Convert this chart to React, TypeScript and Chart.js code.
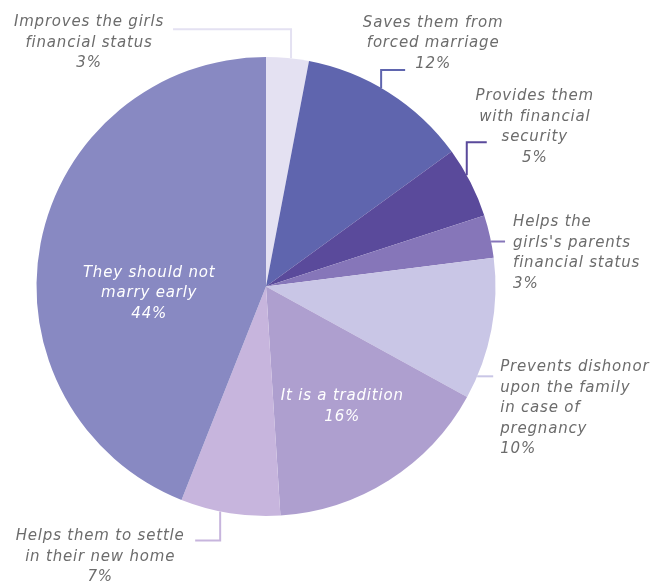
import React, { useEffect, useRef } from "react";
import { Chart, registerables } from "chart.js";

Chart.register(...registerables);

const categories = [
  ["Improves the girls", "financial status"],
  ["Saves them from", "forced marriage"],
  ["Provides them", "with financial", "security"],
  ["Helps the", "girls's parents", "financial status"],
  ["Prevents dishonor", "upon the family", "in case of", "pregnancy"],
  ["It is a tradition"],
  ["Helps them to settle", "in their new home"],
  ["They should not", "marry early"],
];
const percentages = [3, 12, 5, 3, 10, 16, 7, 44];
const colors = ["#e4e1f2", "#5f65ae", "#5a4a9b", "#8676b9", "#c9c6e6", "#ae9fcf", "#c7b5dd", "#8889c2"];

type Layout = {
  f: number;
  k: number;
  path: [number, number][];
  inside?: boolean;
  align: CanvasTextAlign;
  tdx: number;
  tdy: number;
};
const layout: Layout[] = [
  { f: 0.58, k: 1, path: [[0, -29], [-118, 0]], align: "center", tdx: -84, tdy: -7 },
  { f: 0.447, k: 1, path: [[0, -18], [24, 0]], align: "center", tdx: 28, tdy: -47 },
  { f: 0.39, k: 1, path: [[0, -33], [20, 0]], align: "center", tdx: 48, tdy: -46 },
  { f: 0.62, k: 1, path: [[14, 0]], align: "left", tdx: 8, tdy: -19 },
  { f: 0.84, k: 1, path: [[16, 0]], align: "left", tdx: 7, tdy: -9 },
  { f: 0.5, k: 0.62, path: [], inside: true, align: "center", tdx: 0, tdy: 0 },
  { f: 0.6, k: 1, path: [[0, 29], [-25, 0]], align: "center", tdx: -95, tdy: -4 },
  { f: 0.41, k: 0.51, path: [], inside: true, align: "center", tdx: 0, tdy: 0 },
];

const FONT = "oblique 15px 'DejaVu Sans', sans-serif";
const LETTER_SPACING = "0.8px";
const LINE_H = 20.5;

const labelPlugin = {
  id: "pieLabels",
  afterDatasetsDraw(chart: any) {
    const ctx = chart.ctx as CanvasRenderingContext2D;
    const meta = chart.getDatasetMeta(0);
    meta.data.forEach((arc: any, i: number) => {
      const p = arc.getProps(["x", "y", "startAngle", "endAngle", "outerRadius"], true);
      const L = layout[i];
      const a = p.startAngle + L.f * (p.endAngle - p.startAngle);
      let x = p.x + Math.cos(a) * p.outerRadius * L.k;
      let y = p.y + Math.sin(a) * p.outerRadius * L.k;
      const lines = [...categories[i], percentages[i] + "%"];
      ctx.save();
      ctx.font = FONT;
      (ctx as any).letterSpacing = LETTER_SPACING;
      ctx.textBaseline = "middle";
      if (L.inside) {
        ctx.fillStyle = "#ffffff";
        ctx.textAlign = "center";
        const top = y - ((lines.length - 1) * LINE_H) / 2;
        lines.forEach((t, j) => ctx.fillText(t, x, top + j * LINE_H));
      } else {
        ctx.strokeStyle = colors[i];
        ctx.lineWidth = 2;
        ctx.beginPath();
        ctx.moveTo(x, y);
        L.path.forEach(([dx, dy]) => {
          x += dx;
          y += dy;
          ctx.lineTo(x, y);
        });
        ctx.stroke();
        ctx.fillStyle = "#6c6c6c";
        ctx.textAlign = L.align;
        lines.forEach((t, j) => ctx.fillText(t, x + L.tdx, y + L.tdy + j * LINE_H));
      }
      ctx.restore();
    });
  },
};

export default function App() {
  const ref = useRef<HTMLCanvasElement>(null);
  useEffect(() => {
    const chart = new Chart(ref.current!, {
      type: "pie",
      data: {
        labels: categories.map((c) => c.join(" ")),
        datasets: [
          {
            data: percentages,
            backgroundColor: colors,
            borderWidth: 0,
          },
        ],
      },
      options: {
        animation: false,
        responsive: false,
        events: [],
        layout: { padding: { left: 36.5, right: 158.5, top: 57, bottom: 66 } },
        plugins: { legend: { display: false }, tooltip: { enabled: false } },
      },
      plugins: [labelPlugin],
    });
    return () => chart.destroy();
  }, []);
  return (
    <div style={{ position: "fixed", left: 0, top: 0, width: 654, height: 582, background: "#fff" }}>
      <canvas ref={ref} width={654} height={582} style={{ width: 654, height: 582 }} />
    </div>
  );
}
